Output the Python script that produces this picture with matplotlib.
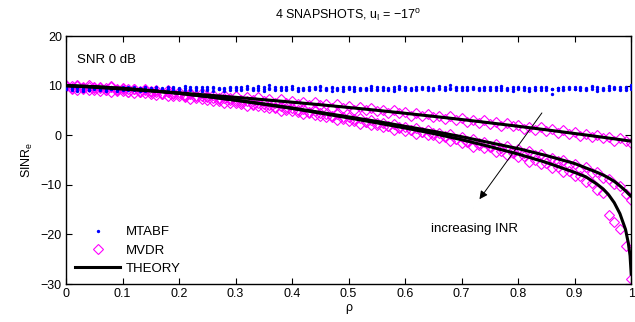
import matplotlib
matplotlib.use('Agg')
from matplotlib import pyplot as plt

plt.rcParams['font.family'] = ['Liberation Sans', 'DejaVu Sans']
plt.rcParams['mathtext.fontset'] = 'custom'
plt.rcParams['mathtext.rm'] = 'Liberation Sans'
plt.rcParams['mathtext.it'] = 'Liberation Sans'

# rho grid of the simulated points (0 .. 1 step 0.01)
rho = [k / 100 for k in range(101)]

# MTABF, three INR values (dB)
mtabf_1 = [9.8, 9.2, 9.5, 9.0, 9.6, 9.3, 9.1, 9.7, 9.4, 8.9,
           9.5, 9.2, 9.8, 9.3, 9.0, 9.6, 9.4, 9.1, 9.7, 9.2,
           9.4, 9.9, 9.1, 9.5, 9.3, 9.7, 9.0, 9.4, 9.6, 9.2,
           9.5, 9.8, 9.3, 9.1, 9.6, 9.4, 10.2, 9.2, 9.5, 9.7,
           9.3, 9.6, 9.1, 9.4, 9.8, 9.2, 9.5, 9.0, 9.6, 9.3,
           9.7, 9.4, 9.2, 9.6, 9.9, 9.3, 9.5, 9.1, 9.7, 9.4,
           9.2, 9.6, 9.8, 9.3, 9.5, 9.1, 9.6, 9.4, 10.1, 9.2,
           9.5, 9.7, 9.3, 9.6, 9.1, 9.4, 9.8, 9.2, 9.5, 9.7,
           9.3, 9.6, 9.0, 9.4, 9.7, 9.2, 8.4, 9.5, 9.3, 9.8,
           9.4, 9.1, 9.6, 9.9, 9.3, 9.5, 9.2, 9.7, 9.4, 9.6, 9.8]
mtabf_2 = [9.5, 9.7, 9.0, 9.4, 9.2, 9.8, 9.5, 9.0, 9.3, 9.6,
           9.1, 9.7, 9.4, 9.0, 9.5, 9.2, 9.8, 9.3, 9.1, 9.6,
           9.0, 9.5, 9.7, 9.2, 9.8, 9.1, 9.6, 9.3, 9.0, 9.7,
           9.2, 9.4, 9.9, 9.6, 9.2, 9.7, 9.3, 9.8, 9.1, 9.4,
           9.9, 9.2, 9.6, 9.8, 9.3, 9.7, 9.1, 9.5, 9.2, 9.8,
           9.3, 9.0, 9.6, 9.4, 9.2, 9.8, 9.1, 9.6, 9.3, 9.9,
           9.5, 9.2, 9.4, 9.7, 9.1, 9.6, 9.3, 9.8, 9.4, 9.7,
           9.2, 9.4, 9.8, 9.1, 9.5, 9.7, 9.2, 9.6, 9.3, 9.0,
           9.7, 9.2, 9.5, 9.8, 9.1, 9.6, 9.4, 9.2, 9.7, 9.3,
           9.8, 9.5, 9.2, 9.4, 9.7, 9.1, 9.6, 9.3, 9.8, 9.2, 9.4]
mtabf_3 = [9.3, 9.5, 9.8, 9.6, 9.1, 9.5, 9.3, 9.4, 9.8, 9.2,
           9.7, 9.4, 9.1, 9.6, 9.8, 9.4, 9.1, 9.6, 9.3, 9.8,
           9.6, 9.2, 9.3, 9.8, 9.0, 9.4, 9.8, 9.6, 9.3, 9.5,
           9.8, 9.1, 9.6, 9.3, 9.9, 9.0, 9.6, 9.4, 9.7, 9.1,
           9.6, 9.0, 9.4, 9.2, 9.5, 9.9, 9.3, 9.7, 9.4, 9.0,
           9.5, 9.7, 9.3, 9.1, 9.6, 9.2, 9.8, 9.4, 9.0, 9.6,
           9.8, 9.4, 9.1, 9.5, 9.8, 9.3, 9.9, 9.1, 9.6, 9.5,
           9.8, 9.1, 9.5, 9.4, 9.8, 9.2, 9.5, 9.9, 9.1, 9.4,
           9.5, 9.8, 9.3, 9.1, 9.5, 9.8, 9.3, 9.6, 9.1, 9.6,
           9.3, 9.8, 9.4, 9.7, 9.0, 9.4, 9.9, 9.5, 9.1, 9.7, 10.2]

# MVDR, three INR values (dB)
mvdr_1 = [10.2, 9.5, 10.1, 9.5, 10.1, 9.5, 9.8, 9.1, 9.9, 9.2,
          9.6, 8.8, 9.4, 8.8, 9.4, 8.7, 9.1, 8.4, 9.1, 8.4,
          8.8, 8.0, 8.6, 8.0, 8.6, 7.9, 8.2, 7.5, 8.2, 7.5,
          8.0, 7.2, 7.7, 7.1, 7.7, 7.0, 7.3, 6.6, 7.3, 6.6,
          7.0, 6.2, 6.7, 6.1, 6.7, 6.0, 6.2, 5.5, 6.2, 5.5,
          5.9, 5.1, 5.6, 5.0, 5.5, 4.8, 5.1, 4.4, 5.1, 4.4,
          4.7, 3.9, 4.4, 3.8, 4.3, 3.6, 3.9, 3.2, 3.8, 3.1,
          3.5, 2.6, 3.1, 2.5, 3.0, 2.3, 2.6, 1.8, 2.5, 1.8,
          2.1, 1.3, 1.7, 1.1, 1.6, 0.9, 1.2, 0.4, 1.1, 0.3,
          0.7, -0.2, 0.3, -0.4, 0.1, -0.6, -0.4, -1.1, -0.5, -1.2, -1.6]
mvdr_2 = [10.0, 9.4, 10.0, 9.4, 9.8, 9.1, 9.6, 9.2, 9.7, 8.9,
          9.4, 8.8, 9.4, 8.7, 9.1, 8.3, 8.8, 8.3, 8.8, 8.0,
          8.4, 7.7, 8.3, 7.6, 7.9, 7.1, 7.6, 7.0, 7.5, 6.6,
          7.0, 6.3, 6.9, 6.1, 6.5, 5.6, 6.0, 5.5, 5.9, 5.1,
          5.4, 4.7, 5.2, 4.5, 4.8, 3.9, 4.3, 3.7, 4.2, 3.3,
          3.6, 2.9, 3.4, 2.7, 3.0, 2.1, 2.5, 1.9, 2.3, 1.4,
          1.7, 1.0, 1.5, 0.7, 1.0, 0.1, 0.5, -0.1, 0.2, -0.7,
          -0.4, -1.1, -0.7, -1.5, -1.3, -2.2, -1.8, -2.5, -2.1, -3.1,
          -2.8, -3.6, -3.2, -4.0, -3.8, -4.8, -4.5, -5.2, -5.0, -6.0,
          -5.8, -6.8, -6.5, -7.6, -7.5, -8.7, -8.8, -9.8, -10.3, -11.8, -13.1]
mvdr_3 = [10.0, 9.9, 9.1, 9.7, 9.2, 9.8, 9.0, 9.5, 8.8, 9.4,
          8.9, 9.3, 8.5, 9.0, 8.5, 9.0, 8.2, 8.6, 7.9, 8.5,
          7.9, 8.2, 7.4, 7.9, 7.3, 7.8, 7.0, 7.3, 6.6, 7.1,
          6.5, 6.8, 5.9, 6.4, 5.8, 6.3, 5.4, 5.7, 4.9, 5.5,
          4.8, 5.1, 4.2, 4.6, 4.0, 4.5, 3.6, 3.9, 3.1, 3.6,
          2.9, 3.2, 2.3, 2.7, 2.1, 2.5, 1.6, 1.9, 1.1, 1.6,
          0.9, 1.1, 0.2, 0.6, 0.0, 0.4, -0.6, -0.4, -1.2, -0.8,
          -1.5, -1.3, -2.3, -1.9, -2.6, -2.3, -3.3, -3.1, -4.0, -3.6,
          -4.4, -4.2, -5.3, -5.0, -5.8, -5.5, -6.6, -6.5, -7.5, -7.2,
          -8.3, -8.3, -9.4, -9.6, -11.0, -11.6, -16.1, -17.5, -19.0, -22.4, -29.0]

# theory curves (dB)
rho_th = [0, 0.05, 0.1, 0.15, 0.2, 0.25, 0.3, 0.35, 0.4, 0.45, 0.5,
          0.55, 0.6, 0.65, 0.7, 0.75, 0.8, 0.85, 0.9, 0.92, 0.94, 0.95,
          0.96, 0.97, 0.98, 0.99, 0.995, 0.998, 1.0]
theory_1 = [10.0, 9.67, 9.31, 8.93, 8.53, 8.10, 7.65, 7.17, 6.67, 6.15, 5.60,
            5.03, 4.43, 3.81, 3.17, 2.50, 1.81, 1.09, 0.35, 0.05, -0.26, -0.41,
            -0.57, -0.72, -0.88, -1.04, -1.12, -1.17, -1.2]
theory_2 = [10.0, 9.8, 9.45, 9.0, 8.45, 7.8, 7.1, 6.3, 5.5, 4.6, 3.7,
            2.8, 1.8, 0.8, -0.3, -1.5, -2.7, -4.1, -5.7, -6.6, -7.5, -8.0,
            -8.6, -9.3, -10.2, -11.2, -11.8, -12.1, -12.3]
theory_3 = [10.0, 9.8, 9.45, 9.0, 8.45, 7.8, 7.05, 6.25, 5.4, 4.45, 3.5,
            2.5, 1.45, 0.35, -0.9, -2.3, -3.8, -5.5, -7.5, -8.4, -9.9, -10.8,
            -12.0, -13.6, -15.8, -19.0, -21.8, -24.3, -28.0]

fig = plt.figure(figsize=(6.35, 3.22), dpi=100)
ax = fig.add_axes([0.104, 0.118, 0.890, 0.770])

for i, ys in enumerate([mvdr_1, mvdr_2, mvdr_3]):
    ax.plot(rho, ys, linestyle='none', marker='D', markersize=5.5,
            markerfacecolor='none', markeredgecolor='#ff00ff', markeredgewidth=0.8,
            label='MVDR' if i == 0 else None, zorder=2)
for i, ys in enumerate([mtabf_1, mtabf_2, mtabf_3]):
    ax.plot(rho, ys, linestyle='none', marker='.', markersize=2.8, color='#0000ff',
            label='MTABF' if i == 0 else None, zorder=3)
for i, ys in enumerate([theory_1, theory_2, theory_3]):
    ax.plot(rho_th, ys, color='black', linewidth=2.2,
            label='THEORY' if i == 0 else None, zorder=4)

ax.set_xlim(0, 1)
ax.set_ylim(-30, 20)
ax.set_xticks([k / 10 for k in range(11)])
ax.set_xticklabels(['0', '0.1', '0.2', '0.3', '0.4', '0.5', '0.6', '0.7', '0.8', '0.9', '1'])
ax.set_yticks([-30, -20, -10, 0, 10, 20])
ax.tick_params(direction='in', top=True, right=True, labelsize=9, length=4, width=0.8, pad=3)
for s in ax.spines.values():
    s.set_linewidth(1.0)

ax.set_title('4 SNAPSHOTS, u$_\\mathregular{I}$ = \u221217$^\\mathregular{o}$', fontsize=9, pad=12)
ax.set_xlabel('\u03c1', fontsize=9, labelpad=1)
ax.set_ylabel('SINR$_\\mathregular{e}$', fontsize=9, labelpad=4)

ax.text(0.02, 15.2, 'SNR 0 dB', fontsize=9.5, va='center', ha='left')
ax.text(0.722, -19.0, 'increasing INR', fontsize=9.5, va='center', ha='center')
ax.annotate('', xy=(0.7315, -12.9), xytext=(0.842, 4.5),
            arrowprops=dict(arrowstyle='-|>', color='black', lw=0.7,
                            mutation_scale=12, shrinkA=0, shrinkB=0))

handles, labels = ax.get_legend_handles_labels()
order = [labels.index(n) for n in ['MTABF', 'MVDR', 'THEORY']]
ax.legend([handles[i] for i in order], [labels[i] for i in order],
          loc='lower left', bbox_to_anchor=(0.0, 0.0), frameon=False,
          fontsize=9.5, handlelength=3.4, handletextpad=0.4, labelspacing=0.45,
          borderaxespad=0.3)

fig.savefig('out.png', dpi=100)
